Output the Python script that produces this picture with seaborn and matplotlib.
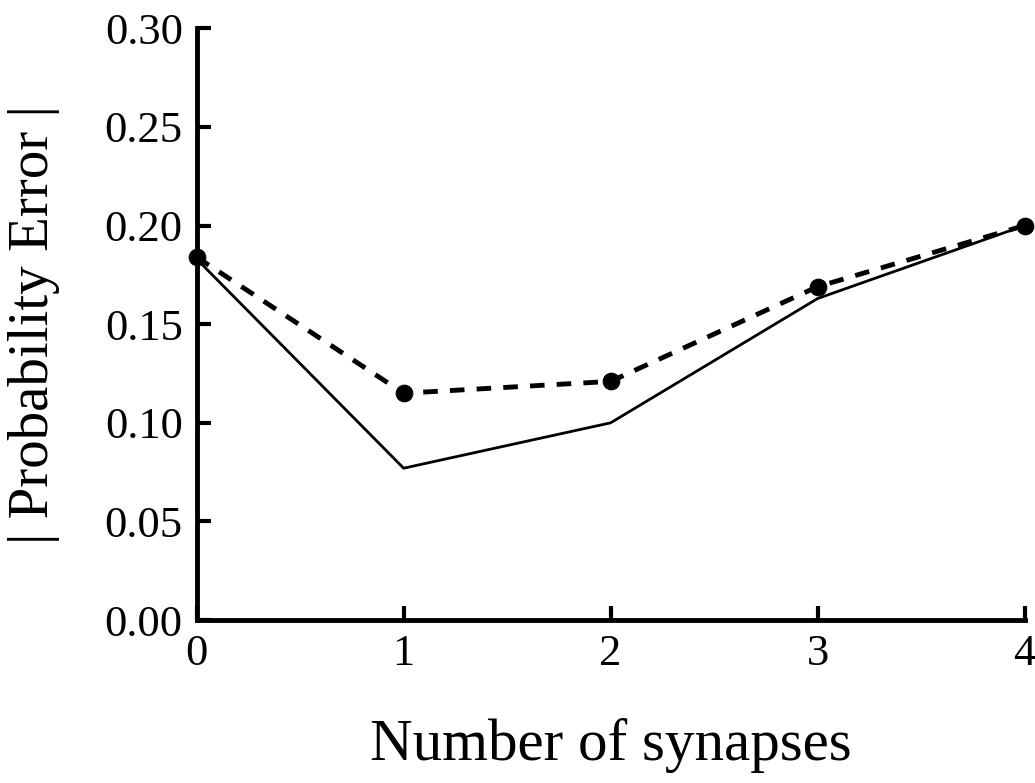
import matplotlib
matplotlib.use("Agg")
import matplotlib.pyplot as plt
import pandas as pd
import seaborn as sns

# Values
synapses = [0, 1, 2, 3, 4]
error_solid = [0.183, 0.077, 0.100, 0.163, 0.200]
error_dashed = [0.184, 0.115, 0.121, 0.169, 0.200]
y_ticks = [0.00, 0.05, 0.10, 0.15, 0.20, 0.25, 0.30]

df = pd.DataFrame({'synapses': synapses, 'solid': error_solid, 'dashed': error_dashed})

sns.set_style("ticks")
plt.rcParams['font.family'] = ['Liberation Serif', 'DejaVu Serif']
plt.rcParams['text.color'] = 'black'
plt.rcParams['axes.labelcolor'] = 'black'

fig = plt.figure(figsize=(10.35, 7.83), dpi=100)
ax = fig.add_axes([0.190, 0.208, 0.800, 0.756])

sns.lineplot(x='synapses', y='solid', data=df, ax=ax, color='black', linewidth=2, clip_on=False)
sns.lineplot(x='synapses', y='dashed', data=df, ax=ax, color='black', linewidth=3.5,
             linestyle=(0, (3, 2.5)), marker='o', markersize=12, markeredgecolor='black',
             clip_on=False)

ax.set_xlim(0, 4)
ax.set_ylim(0, 0.30)
ax.set_xticks(synapses)
ax.set_yticks(y_ticks)
ax.set_yticklabels([f'{v:.2f}' for v in y_ticks])

ax.tick_params(direction='in', length=10, width=3, labelsize=32, pad=10, colors='black')
for side in ['left', 'bottom']:
    ax.spines[side].set_linewidth(3.5)
    ax.spines[side].set_color('black')
sns.despine(ax=ax)

ax.set_xlabel('Number of synapses', fontsize=42.5, labelpad=32, color='black')
ax.set_ylabel('| Probability Error |', fontsize=41, labelpad=32, color='black')

fig.savefig('out.png', dpi=100)
